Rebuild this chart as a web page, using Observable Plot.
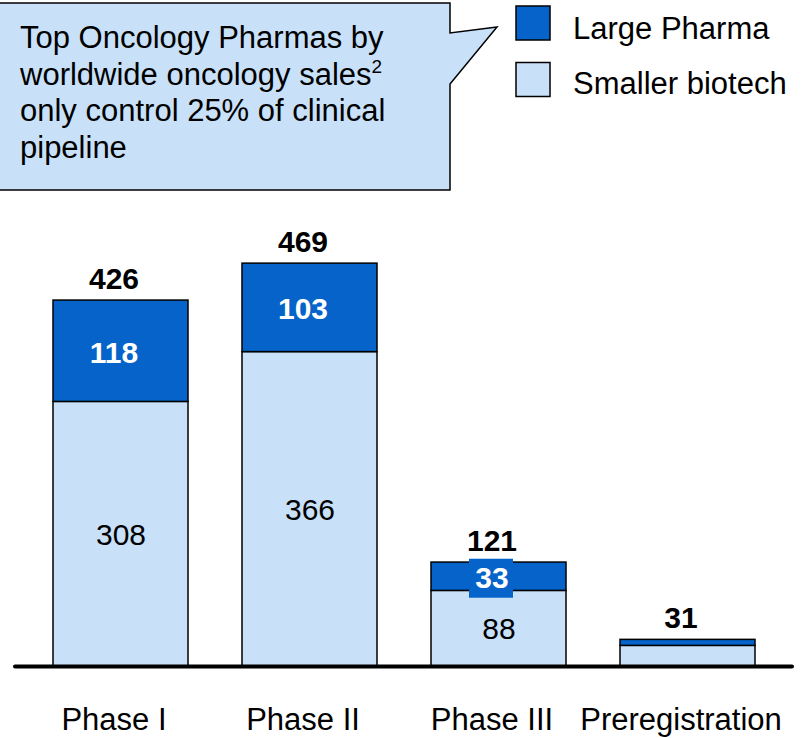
<!DOCTYPE html>
<html><head><meta charset="utf-8">
<script src="https://cdn.jsdelivr.net/npm/d3@7"></script>
<script src="https://cdn.jsdelivr.net/npm/@observablehq/plot@0.6"></script>
<style>
html,body{margin:0;padding:0;background:#fff;}
#wrap{position:relative;width:807px;height:738px;overflow:hidden;font-family:"Liberation Sans",Arial,sans-serif;}
#overlay{position:absolute;left:0;top:0;}
</style></head><body>
<div id="wrap"></div>
<script>
// ---- data ----
const phases = ["Phase I", "Phase II", "Phase III", "Preregistration"];
const largePharma = [118, 103, 33, 7];
const smallerBiotech = [308, 366, 88, 24];
const totals = [426, 469, 121, 31];
const innerLabelled = [true, true, true, false];
const groups = ["Large Pharma", "Smaller biotech"];
const calloutLines = ["Top Oncology Pharmas by", "worldwide oncology sales", "only control 25% of clinical", "pipeline"];
const calloutSup = ["", "2", "", ""];

// ---- styles ----
const dark = "#0563c9", light = "#c8e1f9";
const font = '"Liberation Sans", Arial, sans-serif';

const rows = phases.flatMap((p, i) => [
  {phase: p, group: "Smaller biotech", value: smallerBiotech[i]},
  {phase: p, group: "Large Pharma", value: largePharma[i]}
]);
const smallLabels = phases.map((p, i) => ({phase: p, y: smallerBiotech[i] / 2, text: String(smallerBiotech[i])})).filter((d, i) => innerLabelled[i]);
const largeLabels = phases.map((p, i) => ({phase: p, y: smallerBiotech[i] + largePharma[i] / 2, text: String(largePharma[i])})).filter((d, i) => innerLabelled[i]);
const totalRows = phases.map((p, i) => ({phase: p, total: totals[i], text: String(totals[i])}));

const chart = Plot.plot({
  width: 807, height: 738,
  marginLeft: 15, marginRight: 15, marginTop: 236.5, marginBottom: 72,
  style: {fontFamily: font, background: "transparent", color: "#000"},
  x: {domain: phases, paddingInner: 0.288, paddingOuter: 0.1995, label: null, axis: null},
  y: {domain: [0, 500], axis: null},
  color: {domain: groups, range: [dark, light]},
  marks: [
    Plot.barY(rows, {x: "phase", y: "value", fill: "group", stroke: "#000", strokeWidth: 1.5}),
    Plot.ruleY([0], {stroke: "#000", strokeWidth: 4, strokeLinecap: "round"}),
    Plot.barY(largeLabels, {x: "phase", y1: "y", y2: "y", fill: dark, insetLeft: 38, insetRight: 53, insetTop: -17.5, insetBottom: -21.5}),
    Plot.text(largeLabels, {x: "phase", y: "y", text: "text", fill: "#fff", fontWeight: "bold", fontSize: 30, dx: -7, dy: 2}),
    Plot.text(smallLabels, {x: "phase", y: "y", text: "text", fill: "#000", fontSize: 30, dy: 1}),
    Plot.text(totalRows, {x: "phase", y: "total", text: "text", fill: "#000", fontWeight: "bold", fontSize: 30, dx: -7, dy: -21}),
    Plot.axisX({tickSize: 0, tickPadding: 41, fontSize: 31, dx: -7, label: null, fill: "#000"})
  ]
});
const wrap = document.getElementById("wrap");
wrap.appendChild(chart);

// ---- callout and legend overlay ----
const ns = "http://www.w3.org/2000/svg";
const ov = d3.create("svg").attr("id", "overlay").attr("width", 807).attr("height", 230)
  .style("font-family", font);
ov.append("path")
  .attr("d", "M-3,3 H450 V33 L497,27 L450,84 V190 H-3 Z")
  .attr("fill", light).attr("stroke", "#000").attr("stroke-width", 1.5).attr("stroke-linejoin", "miter");
calloutLines.forEach((t, i) => {
  const tx = ov.append("text").attr("x", 20).attr("y", 48 + 36.5 * i).attr("font-size", 31).attr("fill", "#000").text(t);
  if (calloutSup[i]) tx.append("tspan").attr("dy", -12).attr("font-size", 19).text(calloutSup[i]);
});
groups.forEach((g, i) => {
  ov.append("rect").attr("x", 516).attr("y", 6 + 56.5 * i).attr("width", 34).attr("height", 34)
    .attr("fill", i === 0 ? dark : light).attr("stroke", "#000").attr("stroke-width", 1.5);
  ov.append("text").attr("x", 573).attr("y", 39 + 55 * i).attr("font-size", 31).attr("fill", "#000").text(g);
});
wrap.appendChild(ov.node());
</script>
</body></html>
